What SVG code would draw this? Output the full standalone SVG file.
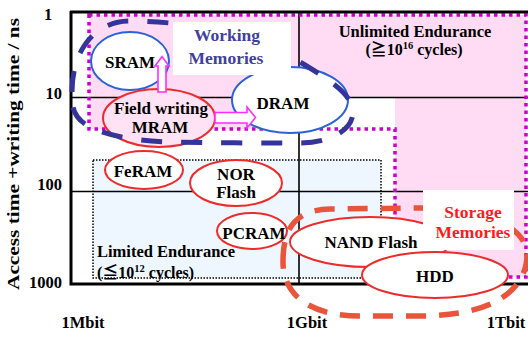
<svg xmlns="http://www.w3.org/2000/svg" width="528" height="337" viewBox="0 0 528 337">
<style>
text{font-family:"Liberation Serif","DejaVu Serif","Noto Sans CJK JP",serif;font-weight:bold;fill:#000}
.lbl{font-size:17px;text-anchor:middle}
.ax{font-size:16.5px}
.grid{stroke:#000;stroke-width:1.6;fill:none}
.frame{stroke:#000;stroke-width:3;fill:none}
.blue{fill:#fff;stroke:#2a62d8;stroke-width:2}
.red{fill:#fff;stroke:#ee2a2a;stroke-width:2}
.arrow{fill:#fff;stroke:#ff2cff;stroke-width:1.6;stroke-linejoin:miter}
</style>
<rect width="528" height="337" fill="#fff"/>
<g id="regions">
<polygon points="89,15 526,15 526,277 395,277 395,97 299,97 299,129 89,129" fill="#ffdcf4"/>
<rect x="93" y="160" width="288" height="118" fill="#eef6ff" stroke="#000" stroke-width="1.5" stroke-dasharray="1.5 1.5"/>
</g>
<g id="grid">
<line class="grid" x1="70" y1="97.5" x2="528" y2="97.5"/>
<line class="grid" x1="70" y1="191.5" x2="528" y2="191.5"/>
<line class="grid" x1="299" y1="12" x2="299" y2="284"/>
</g>
<polygon points="89,15 526,15 526,277 395,277 395,129 89,129" fill="none" stroke="#cc00cc" stroke-width="3.5" stroke-dasharray="3.5 4"/>
<g id="frame">
<path class="frame" d="M70,12 H528"/>
<path class="frame" d="M71,11 V284 H528" stroke-width="3.5"/>
</g>
<g id="axis-labels">
<text class="ax" x="44" y="20">1</text>
<text class="ax" x="62" y="99" text-anchor="end">10</text>
<text class="ax" x="62" y="190" text-anchor="end">100</text>
<text class="ax" x="62" y="288" text-anchor="end">1000</text>
<text class="ax" x="83" y="328" text-anchor="middle">1Mbit</text>
<text class="ax" x="307" y="328" text-anchor="middle">1Gbit</text>
<text class="ax" x="506" y="328" text-anchor="middle">1Tbit</text>
<text transform="translate(19,154) rotate(-90)" font-size="17" text-anchor="middle" textLength="272" lengthAdjust="spacingAndGlyphs">Access time +writing time / ns</text>
</g>
<g id="region-labels">
<text x="415" y="37" font-size="16.5" text-anchor="middle">Unlimited Endurance</text>
<text x="414" y="55" font-size="16" text-anchor="middle">(≧10<tspan font-size="10.5" dy="-6">16</tspan><tspan dy="6"> cycles)</tspan></text>
<text x="97" y="257" font-size="16.5">Limited Endurance</text>
<text x="97" y="278" font-size="16">(≦10<tspan font-size="10.5" dy="-6">12</tspan><tspan dy="6"> cycles)</tspan></text>
</g>
<g id="node-SRAM">
<ellipse class="blue" cx="130" cy="61" rx="39" ry="29"/>
<text class="lbl" x="130" y="68" font-size="16">SRAM</text>
</g>
<g id="node-MRAM">
<ellipse class="red" cx="159" cy="118" rx="56" ry="29" style="fill:#ffe2f4"/>
<text class="lbl" x="161" y="114">Field writing</text>
<text class="lbl" x="160" y="133" font-size="16.5">MRAM</text>
</g>
<g id="node-DRAM">
<ellipse class="blue" cx="290" cy="100" rx="58" ry="33"/>
<text class="lbl" x="283" y="109" font-size="16.5">DRAM</text>
</g>
<g id="node-FeRAM">
<ellipse class="red" cx="144" cy="170" rx="39" ry="19"/>
<text class="lbl" x="143" y="177" font-size="16.5">FeRAM</text>
</g>
<g id="node-NOR">
<ellipse class="red" cx="236" cy="183" rx="46" ry="23"/>
<text class="lbl" x="236" y="180" font-size="16.5">NOR</text>
<text class="lbl" x="236" y="198" font-size="16.5">Flash</text>
</g>
<g id="node-PCRAM">
<ellipse class="red" cx="252" cy="231" rx="35" ry="18"/>
<text class="lbl" x="254" y="239">PCRAM</text>
</g>
<g id="node-NAND">
<ellipse class="red" cx="370" cy="242" rx="80" ry="25"/>
<text class="lbl" x="371" y="248" font-size="17.5">NAND Flash</text>
</g>
<g id="node-HDD">
<ellipse class="red" cx="435" cy="275" rx="73" ry="23"/>
<text class="lbl" x="435" y="282">HDD</text>
</g>
<g id="connectors">
<path class="arrow" d="M158,92 V66 H155 L162,56.5 L169,66 H166 V92 Z"/>
<path class="arrow" d="M215,112.5 H247 V107 L255.5,117.5 L247,128 V123 H215 Z"/>
</g>
<g id="groups">
<path d="M72,92 C72,50 95,21 130,21 C200,21 265,40 300,62 C330,80 353,95 353,112 C353,130 330,143 300,143 C260,143 210,143 170,142 C130,141 100,134 85,124 C72,115 72,105 72,92 Z" fill="none" stroke="#34349a" stroke-width="5" stroke-dasharray="21 19"/>
<path d="M283,262 C283,235 290,210 330,209 L420,208 C480,208 527,225 527,255 C527,285 500,316 420,316 L360,316 C310,316 283,295 283,262 Z" fill="none" stroke="#e8553a" stroke-width="5.5" stroke-dasharray="20 13"/>
</g>
<g id="label-working">
<rect x="173" y="22" width="118" height="53" fill="#fff"/>
<text x="227" y="41" font-size="17.5" text-anchor="middle" style="fill:#4040a0">Working</text>
<text x="226" y="64" font-size="17.5" text-anchor="middle" style="fill:#4040a0">Memories</text>
</g>
<g id="label-storage">
<rect x="423" y="190" width="91" height="60" fill="#fff"/>
<text x="473" y="218" font-size="17.5" text-anchor="middle" style="fill:#ff1a1a">Storage</text>
<text x="473" y="238" font-size="17.5" text-anchor="middle" style="fill:#ff1a1a">Memories</text>
</g>
</svg>
